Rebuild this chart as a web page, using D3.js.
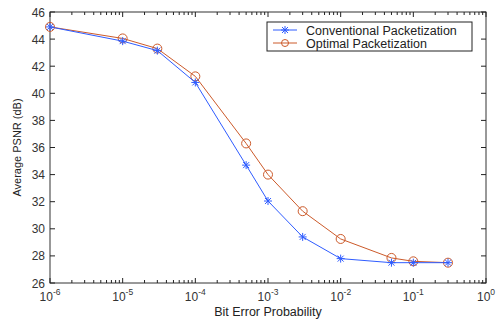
<!DOCTYPE html>
<html>
<head>
<meta charset="utf-8">
<script src="https://cdn.jsdelivr.net/npm/d3@7"></script>
<style>
  body { margin: 0; background: #fff; }
  svg { font-family: Arial, "Liberation Sans", sans-serif; }
</style>
</head>
<body>
<svg id="chart" width="500" height="320"></svg>
<script>
// bit error probabilities
const ber = [1e-6, 1e-5, 3e-5, 1e-4, 5e-4, 1e-3, 3e-3, 1e-2, 5e-2, 1e-1, 3e-1];
const conventional = [44.9, 43.85, 43.15, 40.8, 34.7, 32.05, 29.4, 27.8, 27.5, 27.5, 27.5];
const optimal = [44.9, 44.05, 43.3, 41.25, 36.3, 34.0, 31.3, 29.25, 27.85, 27.6, 27.5];
const seriesNames = ['Conventional Packetization', 'Optimal Packetization'];
const xTickExps = [-6, -5, -4, -3, -2, -1, 0];
const yTicks = [26, 28, 30, 32, 34, 36, 38, 40, 42, 44, 46];

const margin = { top: 12, right: 14, bottom: 37, left: 50 };
const width = 500 - margin.left - margin.right;
const height = 320 - margin.top - margin.bottom;

const blue = '#2f5cff';
const orange = '#cc5a2a';

const svg = d3.select('#chart');
const g = svg.append('g').attr('transform', `translate(${margin.left},${margin.top})`);

const x = d3.scaleLog().domain([1e-6, 1]).range([0, width]);
const y = d3.scaleLinear().domain([26, 46]).range([height, 0]);

// minor ticks for the log axis
const minor = [];
for (let e = -6; e < 0; e++) {
  for (let k = 2; k <= 9; k++) minor.push(k * Math.pow(10, e));
}

const tickColor = '#222';

// box
g.append('rect')
  .attr('width', width).attr('height', height)
  .attr('fill', 'none').attr('stroke', '#333').attr('stroke-width', 1);

// x ticks (bottom + top, pointing inward)
const xMajors = xTickExps.map(e => Math.pow(10, e));
[[height, -1], [0, 1]].forEach(([y0, dir]) => {
  g.selectAll(null).data(xMajors).enter().append('line')
    .attr('x1', d => x(d)).attr('x2', d => x(d))
    .attr('y1', y0).attr('y2', y0 + dir * 5)
    .attr('stroke', tickColor);
  g.selectAll(null).data(minor).enter().append('line')
    .attr('x1', d => x(d)).attr('x2', d => x(d))
    .attr('y1', y0).attr('y2', y0 + dir * 3)
    .attr('stroke', tickColor);
});

// y ticks (left + right)
[[0, 1], [width, -1]].forEach(([x0, dir]) => {
  g.selectAll(null).data(yTicks).enter().append('line')
    .attr('x1', x0).attr('x2', x0 + dir * 5)
    .attr('y1', d => y(d)).attr('y2', d => y(d))
    .attr('stroke', tickColor);
});

// y tick labels
g.selectAll('.ylab').data(yTicks).enter().append('text')
  .attr('class', 'ylab')
  .attr('x', -5).attr('y', d => y(d) + 4.5)
  .attr('text-anchor', 'end')
  .attr('font-size', 12).attr('fill', '#333')
  .text(d => d);

// x tick labels with superscript exponents
const xl = g.selectAll('.xlab').data(xTickExps).enter().append('text')
  .attr('class', 'xlab')
  .attr('x', d => x(Math.pow(10, d)))
  .attr('y', height + 18)
  .attr('text-anchor', 'middle')
  .attr('font-size', 12).attr('fill', '#333');
xl.append('tspan').text('10');
xl.append('tspan').attr('dy', -6).attr('font-size', 8.5).text(d => d);

// axis titles
g.append('text')
  .attr('x', width / 2).attr('y', height + 33)
  .attr('text-anchor', 'middle').attr('font-size', 12.5).attr('fill', '#222')
  .text('Bit Error Probability');
g.append('text')
  .attr('transform', `translate(-29,${height / 2}) rotate(-90)`)
  .attr('text-anchor', 'middle').attr('font-size', 11).attr('fill', '#222')
  .text('Average PSNR (dB)');

const line = d3.line().x(d => x(d[0])).y(d => y(d[1]));

function star(sel, color) {
  sel.each(function (d) {
    const s = d3.select(this);
    const r = 4;
    [[-r, 0, r, 0], [0, -r, 0, r], [-3, -3, 3, 3], [-3, 3, 3, -3]].forEach(p => {
      s.append('line')
        .attr('x1', p[0]).attr('y1', p[1]).attr('x2', p[2]).attr('y2', p[3])
        .attr('stroke', color).attr('stroke-width', 1);
    });
  });
}

function circ(sel, color) {
  sel.append('circle').attr('r', 4.5)
    .attr('fill', 'none').attr('stroke', color).attr('stroke-width', 1);
}

// optimal series (drawn first so conventional sits on top)
const optPts = ber.map((b, i) => [b, optimal[i]]);
const convPts = ber.map((b, i) => [b, conventional[i]]);

g.append('path').datum(optPts)
  .attr('d', line).attr('fill', 'none').attr('stroke', orange).attr('stroke-width', 1);
g.selectAll('.opt').data(optPts).enter().append('g')
  .attr('class', 'opt')
  .attr('transform', d => `translate(${x(d[0])},${y(d[1])})`)
  .call(circ, orange);

g.append('path').datum(convPts)
  .attr('d', line).attr('fill', 'none').attr('stroke', blue).attr('stroke-width', 1);
g.selectAll('.conv').data(convPts).enter().append('g')
  .attr('class', 'conv')
  .attr('transform', d => `translate(${x(d[0])},${y(d[1])})`)
  .call(star, blue);

// legend
const leg = svg.append('g').attr('transform', 'translate(267,22)');
leg.append('rect').attr('width', 205).attr('height', 29)
  .attr('fill', '#fff').attr('stroke', '#222').attr('stroke-width', 1);
const legendColors = [blue, orange];
seriesNames.forEach((name, i) => {
  const row = leg.append('g').attr('transform', `translate(0,${8 + i * 13})`);
  row.append('line').attr('x1', 6).attr('x2', 30).attr('stroke', legendColors[i]);
  const m = row.append('g').attr('transform', 'translate(18,0)');
  if (i === 0) star(m, blue); else m.append('circle').attr('r', 3.5)
    .attr('fill', 'none').attr('stroke', orange);
  row.append('text').attr('x', 39).attr('y', 4.5)
    .attr('font-size', 12.5).attr('fill', '#222').text(name);
});
</script>
</body>
</html>
